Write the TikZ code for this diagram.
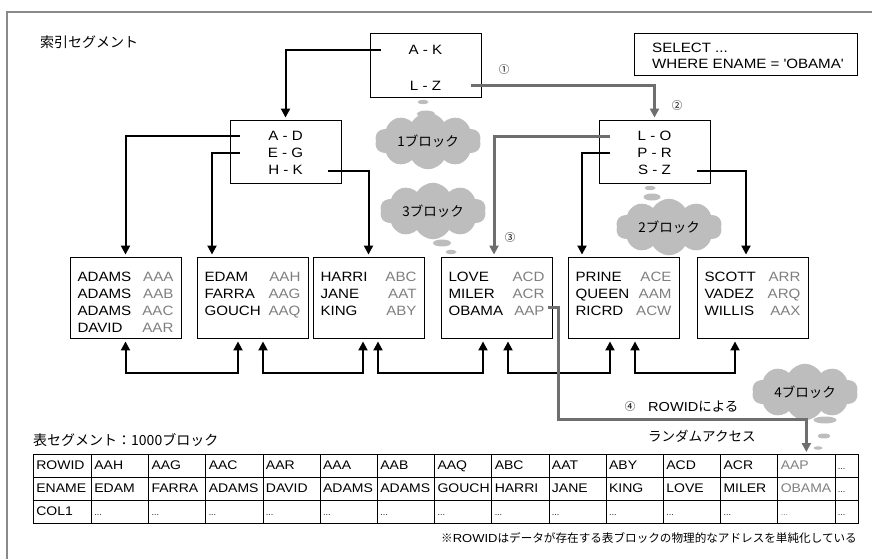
\documentclass[tikz,border=0pt]{standalone}
\usepackage{fontspec}
\setmainfont{Liberation Sans}[FakeStretch=1.12]
\newfontfamily\jp{Noto Sans CJK JP}
\usetikzlibrary{arrows.meta,shapes.symbols,shapes.geometric}

\definecolor{codegray}{HTML}{7F7F7F}
\definecolor{pathgray}{HTML}{6E6E6E}
\definecolor{cloudgray}{HTML}{BDBDBD}
\definecolor{framegray}{HTML}{8A8A8A}

\newcommand{\rid}[1]{\textcolor{codegray}{#1}}
\newcommand{\leafrows}[1]{\parbox[c][81pt][t]{96pt}{\vspace*{15pt}#1}}
\newcommand{\etc}{{\fontsize{8}{8}\selectfont...}}

\begin{document}
\begin{tikzpicture}[
			x=1pt, y=-1pt,
			every node/.style={font=\fontsize{13.5}{17}\selectfont},
			box/.style={draw, line width=0.9pt, minimum width=111pt, inner sep=0pt},
			row/.style={inner sep=0pt},
			leaf/.style={draw, line width=0.9pt, inner xsep=7.5pt, inner ysep=0pt},
			link/.style={line width=2pt, -{Triangle[length=9pt,width=9pt]}, shorten >=2pt},
			hit/.style={link, draw=pathgray, line width=3pt},
			sib/.style={line width=2pt, {Triangle[length=9pt,width=9pt]}-{Triangle[length=9pt,width=9pt]}, shorten <=3pt, shorten >=3pt},
			puff/.style={cloud, cloud puffs=10, cloud puff arc=120, aspect=2.6, fill=cloudgray, inner xsep=6pt, inner ysep=4pt, font=\jp\fontsize{13.5}{16}\selectfont},
			bubble/.style={ellipse, fill=cloudgray, inner sep=0pt},
			num/.style={inner sep=0pt, font=\jp\fontsize{10.5}{12}\selectfont},
			jptext/.style={inner sep=0pt, font=\jp\fontsize{14}{17}\selectfont},
			cell/.style={draw, line width=0.7pt, anchor=north west, minimum height=23pt, inner xsep=3pt, inner ysep=0pt, text height=9pt, text depth=2.5pt, align=left, font=\fontsize{12.5}{15}\selectfont}
			]
			\useasboundingbox (0,0) rectangle (872,559);
			% Frame
			\draw[framegray, line width=1.3pt] (7,559) -- (7,12) -- (872,12);
			\node[jptext, anchor=west] (idxseg) at (40,42) {索引セグメント};
			
			% Index blocks
			\node[box, minimum height=64pt] (root) at (425.5,65) {};
			\node[row] (kAK) at (425.5,50) {A - K};
			\node[row] (kLZ) at (425.5,86) {L - Z};
			\node[box, minimum height=63pt] (midL) at (285.5,151.5) {};
			\node[row] (kAD) at (285.5,136) {A - D};
			\node[row] (kEG) at (285.5,153) {E - G};
			\node[row] (kHK) at (285.5,170) {H - K};
			\node[box, minimum height=63pt] (midR) at (654.5,151.5) {};
			\node[row] (kLO) at (654.5,136) {L - O};
			\node[row] (kPR) at (654.5,153) {P - R};
			\node[row] (kSZ) at (654.5,170) {S - Z};
			\node[box, minimum width=223pt, minimum height=42pt] (sql) at (745.5,54) {};
			\node[row, anchor=west, align=left, font=\fontsize{13.5}{16}\selectfont] (query) at (652,56) {SELECT ...\\WHERE ENAME = \textquotesingle OBAMA\textquotesingle};
			
			% Leaf blocks
			\node[leaf] (leafA) at (125.5,297.5) {\leafrows{ADAMS\hfill\rid{AAA}\\ADAMS\hfill\rid{AAB}\\ADAMS\hfill\rid{AAC}\\DAVID\hfill\rid{AAR}}};
			\node[leaf] (leafB) at (252.5,297.5) {\leafrows{EDAM\hfill\rid{AAH}\\FARRA\hfill\rid{AAG}\\GOUCH\hfill\rid{AAQ}}};
			\node[leaf] (leafC) at (368.5,297.5) {\leafrows{HARRI\hfill\rid{ABC}\\JANE\hfill\rid{AAT}\\KING\hfill\rid{ABY}}};
			\node[leaf] (leafD) at (496.5,297.5) {\leafrows{LOVE\hfill\rid{ACD}\\MILER\hfill\rid{ACR}\\OBAMA\hfill\rid{AAP}}};
			\node[leaf] (leafE) at (623.5,297.5) {\leafrows{PRINE\hfill\rid{ACE}\\QUEEN\hfill\rid{AAM}\\RICRD\hfill\rid{ACW}}};
			\node[leaf] (leafF) at (752.5,297.5) {\leafrows{SCOTT\hfill\rid{ARR}\\VADEZ\hfill\rid{ARQ}\\WILLIS\hfill\rid{AAX}}};
			
			% Block counts
			\node[bubble, minimum width=11pt, minimum height=4.5pt] (b1a) at (423,102) {};
			\node[bubble, minimum width=18pt, minimum height=7pt] (b1b) at (426,114) {};
			\node[puff] (blk1) at (428,141) {1ブロック};
			\node[puff] (blk3) at (433,211) {3ブロック};
			\node[bubble, minimum width=18pt, minimum height=7pt] (b3a) at (442,243) {};
			\node[bubble, minimum width=11pt, minimum height=4.5pt] (b3b) at (451,252) {};
			\node[bubble, minimum width=11pt, minimum height=4.5pt] (b2a) at (650,188) {};
			\node[bubble, minimum width=17pt, minimum height=7pt] (b2b) at (652,197) {};
			\node[puff] (blk2) at (669,227) {2ブロック};
			\node[puff, inner ysep=1.5pt] (blk4) at (805,392) {4ブロック};
			\node[bubble, minimum width=23pt, minimum height=7pt] (b4a) at (825,420) {};
			\node[bubble, minimum width=13pt, minimum height=5pt] (b4b) at (824,436) {};
			\node[bubble, minimum width=9pt, minimum height=3.5pt] (b4c) at (818,448) {};
			
			% Step numbers
			\node[num] (n1) at (504,70) {①};
			\node[num] (n2) at (677,106) {②};
			\node[num] (n3) at (510,238) {③};
			\node[num] (n4) at (630,407) {④};
			\node[row, anchor=west, align=left, font=\fontsize{13}{17}\selectfont] (rand) at (648,422) {ROWID{\jp\fontsize{13.5}{17}\selectfont による}\\[13pt]{\jp\fontsize{13.5}{17}\selectfont ランダムアクセス}};
			
			% Table segment
			\node[jptext, anchor=west] (tblseg) at (33,440) {表セグメント：1000ブロック};
			\node[cell, text width=52pt] (hrid) at (33,454) {ROWID};
			\node[cell, text width=52pt] (hename) at (33,477) {ENAME};
			\node[cell, text width=52pt] (hcol) at (33,500) {COL1};
			\foreach \code/\ename/\tone [count=\i] in {AAH/EDAM/black, AAG/FARRA/black, AAC/ADAMS/black, AAR/DAVID/black, AAA/ADAMS/black, AAB/ADAMS/black, AAQ/GOUCH/black, ABC/HARRI/black, AAT/JANE/black, ABY/KING/black, ACD/LOVE/black, ACR/MILER/black, AAP/OBAMA/codegray} {
				\node[cell, text width=51.2pt, text=\tone] (rid\i) at ({91+57.2*(\i-1)},454) {\code};
				\node[cell, text width=51.2pt, text=\tone] (ename\i) at ({91+57.2*(\i-1)},477) {\ename};
				\node[cell, text width=51.2pt, text=\tone] (col\i) at ({91+57.2*(\i-1)},500) {\etc};
			}
			\node[cell, text width=17.4pt] (ridx) at (834.6,454) {\etc};
			\node[cell, text width=17.4pt] (enamex) at (834.6,477) {\etc};
			\node[cell, text width=17.4pt] (colx) at (834.6,500) {\etc};
			\node[anchor=east, inner sep=0pt, font=\fontsize{11.6}{15}\selectfont] (note) at (857,538) {{\jp ※}ROWID{\jp はデータが存在する表ブロックの物理的なアドレスを単純化している}};
			
			% Pointers
			\coordinate (pAK) at (381,50);
			\coordinate (pLZ) at (471,86);
			\coordinate (pAD) at (240,136);
			\coordinate (pEG) at (240,153);
			\coordinate (pHK) at (328,171);
			\coordinate (pLO) at (610,136);
			\coordinate (pPR) at (610,153);
			\coordinate (pSZ) at (697,171);
			\coordinate (pAAP) at (548,307);
			\coordinate (bend) at (558,419);
			\draw[link] (pAK) -| (midL.north);
			\draw[link] (pAD) -| (leafA.north);
			\draw[link] (pEG) -| ([xshift=-40.5pt]leafB.north);
			\draw[link] (pHK) -| (leafC.north);
			\draw[link] (pPR) -| ([xshift=-41.5pt]leafE.north);
			\draw[link] (pSZ) -| ([xshift=-6.5pt]leafF.north);
			
			% Leaf chain
			\draw[sib] (leafA.south) -- ++(0,35) -| ([xshift=-14.5pt]leafB.south);
			\draw[sib] ([xshift=10.5pt]leafB.south) -- ++(0,35) -| ([xshift=-5.5pt]leafC.south);
			\draw[sib] ([xshift=9.5pt]leafC.south) -- ++(0,35) -| ([xshift=-13.5pt]leafD.south);
			\draw[sib] ([xshift=11.5pt]leafD.south) -- ++(0,35) -| ([xshift=-13.5pt]leafE.south);
			\draw[sib] ([xshift=11.5pt]leafE.south) -- ++(0,35) -| ([xshift=-17.5pt]leafF.south);
			
			% Search path
			\draw[hit] (pLZ) -| (midR.north);
			\draw[hit] (pLO) -| ([xshift=-2.5pt]leafD.north);
			\draw[hit] (pAAP) -| (bend) -| (rid13.north);
		\end{tikzpicture}
\end{document}
